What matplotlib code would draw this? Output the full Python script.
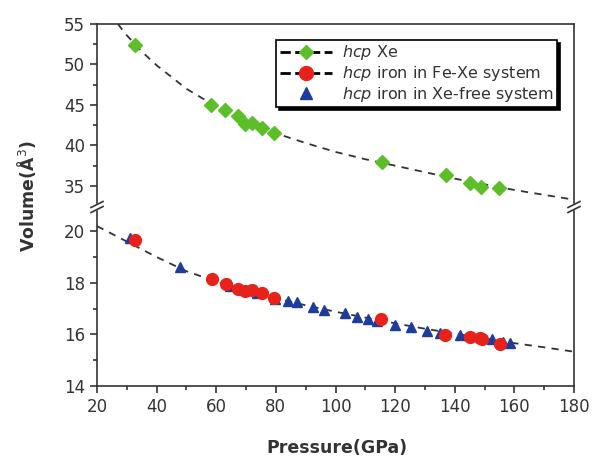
import matplotlib
matplotlib.use("Agg")
import matplotlib.pyplot as plt
from matplotlib.lines import Line2D

plt.rcParams['font.family'] = ['DejaVu Sans']
plt.rcParams['mathtext.fontset'] = 'dejavusans'

# hcp Xe
xe_p = [32.7, 58.1, 63.0, 67.4, 69.7, 72.1, 75.3, 79.4, 115.5, 137.1, 145.2, 148.9, 155.0]
xe_v = [52.4, 45.0, 44.4, 43.6, 42.7, 42.8, 42.1, 41.6, 37.9, 36.3, 35.4, 34.9, 34.8]

# hcp iron in Fe-Xe system
fexe_p = [32.7, 58.5, 63.3, 67.2, 69.7, 72.1, 75.3, 79.4, 115.3, 136.8, 145.2, 148.5, 149.2, 155.2]
fexe_v = [19.67, 18.15, 17.95, 17.76, 17.68, 17.72, 17.59, 17.40, 16.60, 15.98, 15.91, 15.85, 15.83, 15.63]

# hcp iron in Xe-free system
fe_p = [31.1, 47.9, 64.6, 73.6, 79.7, 84.2, 87.0, 92.3, 96.3, 103.2, 107.1, 111.0, 113.8,
        119.8, 125.4, 130.6, 135.1, 141.8, 152.4, 156.1, 158.4]
fe_v = [19.73, 18.62, 17.89, 17.62, 17.38, 17.31, 17.25, 17.07, 16.95, 16.84, 16.69, 16.58, 16.52,
        16.36, 16.27, 16.13, 16.04, 15.98, 15.81, 15.72, 15.65]

# dashed fit curves
xe_fit_p = [27, 30, 35, 40, 50, 60, 70, 80, 90, 100, 110, 120, 130, 140, 150, 160, 170, 180]
xe_fit_v = [55.0, 53.6, 51.6, 49.9, 47.0, 44.8, 43.0, 41.5, 40.3, 39.2, 38.3, 37.5, 36.7, 35.9, 35.2, 34.5, 33.9, 33.3]
fe_fit_p = [20, 30, 40, 50, 60, 70, 80, 90, 100, 110, 120, 130, 140, 150, 160, 170, 180]
fe_fit_v = [20.2, 19.6, 19.0, 18.45, 18.05, 17.7, 17.4, 17.13, 16.88, 16.65, 16.43, 16.22, 16.03, 15.85, 15.66, 15.5, 15.33]

W, H = 594, 461
fig = plt.figure(figsize=(W / 100, H / 100), dpi=100)

left, right, top, brk, bottom = 97, 574, 24, 207, 386
ax_top = fig.add_axes([left / W, 1 - brk / H, (right - left) / W, (brk - top) / H])
ax_bot = fig.add_axes([left / W, 1 - bottom / H, (right - left) / W, (bottom - brk) / H])

dark = '#333333'
green = '#5cbf2a'
red = '#e8221b'
blue = '#1e3c9c'
dash = (0, (4, 3.5))

ax_top.plot(xe_fit_p, xe_fit_v, ls=dash, color=dark, lw=1.3)
ax_top.plot(xe_p, xe_v, 'D', color=green, ms=7, mec=green)
ax_bot.plot(fe_fit_p, fe_fit_v, ls=dash, color=dark, lw=1.3)
ax_bot.plot(fe_p, fe_v, '^', color=blue, ms=7.5, mec=blue)
ax_bot.plot(fexe_p, fexe_v, 'o', color=red, ms=8.5, mec=red)

for ax in (ax_top, ax_bot):
    ax.set_xlim(20, 180)
    for s in ax.spines.values():
        s.set_color(dark)
        s.set_linewidth(1.2)
    ax.tick_params(which='both', direction='out', color=dark, labelcolor=dark,
                   labelsize=12, width=1.2, right=False, top=False)
    ax.tick_params(which='major', length=5)
    ax.tick_params(which='minor', length=3)

ax_top.set_ylim(32.4, 55)
ax_top.set_yticks([35, 40, 45, 50, 55])
ax_top.set_yticks([37.5, 42.5, 47.5, 52.5], minor=True)
ax_top.spines['bottom'].set_visible(False)
ax_top.tick_params(axis='x', which='both', bottom=False, labelbottom=False)

ax_bot.set_ylim(14, 20.94)
ax_bot.set_yticks([14, 16, 18, 20])
ax_bot.set_yticks([15, 17, 19], minor=True)
ax_bot.set_xticks(range(20, 181, 20))
ax_bot.set_xticks(range(30, 180, 20), minor=True)
ax_bot.spines['top'].set_visible(False)

# break marks on left and right spines
for xb in (left, right):
    fig.patches.append(plt.Rectangle(((xb - 2) / W, (H - brk - 2.5) / H), 4 / W, 5 / H,
                                     transform=fig.transFigure, color='white', zorder=5))
    for dy in (-2.5, 2.5):
        fig.add_artist(Line2D([(xb - 6) / W, (xb + 6) / W],
                              [(H - brk + dy - 3) / H, (H - brk + dy + 3) / H],
                              color=dark, lw=1.2, zorder=6))

fig.text(337 / W, 1 - 448 / H, 'Pressure(GPa)', ha='center', va='center',
         fontsize=12.5, color=dark, fontweight='bold')
fig.text(26 / W, 1 - 196 / H, 'Volume(Å$^3$)', ha='center', va='center', rotation=90,
         fontsize=12.5, color=dark, fontweight='bold')

handles = [
    Line2D([], [], ls='--', color='black', lw=2, marker='D', ms=7, mfc=green, mec=green),
    Line2D([], [], ls='--', color='black', lw=2, marker='o', ms=10, mfc=red, mec=red),
    Line2D([], [], ls='none', marker='^', ms=8, mfc=blue, mec=blue),
]
labels = ['$\\mathit{hcp}$ Xe', '$\\mathit{hcp}$ iron in Fe-Xe system', '$\\mathit{hcp}$ iron in Xe-free system']
leg = fig.legend(handles, labels, loc='upper right', bbox_to_anchor=(557 / W, 1 - 40 / H),
                 bbox_transform=fig.transFigure, fontsize=11.5, handlelength=3.3,
                 handletextpad=0.6, labelspacing=0.12, borderpad=0.2, borderaxespad=0,
                 fancybox=False, shadow={'color': 'black', 'alpha': 1, 'ox': 2, 'oy': -2},
                 edgecolor='black', framealpha=1)
leg.get_frame().set_linewidth(1.2)
for t in leg.get_texts():
    t.set_color(dark)

fig.savefig('out.png', dpi=100)
